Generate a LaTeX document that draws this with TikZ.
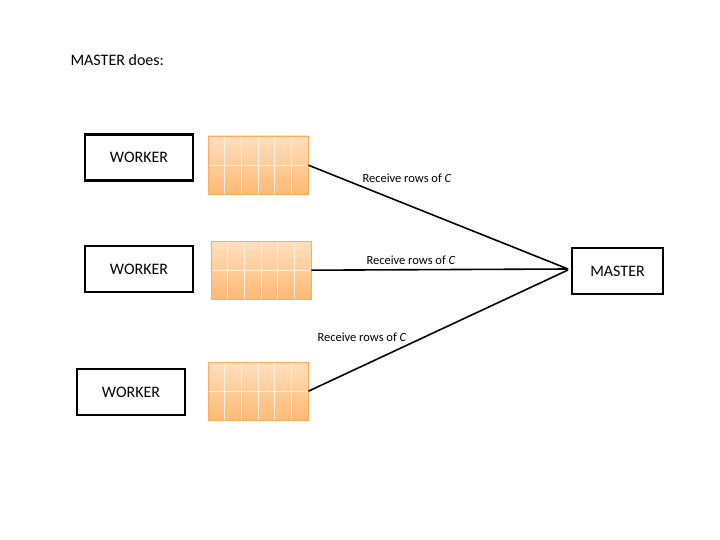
\documentclass[tikz,border=0pt]{standalone}
\usepackage{fontspec}
\setmainfont{Carlito}
\begin{document}
\begin{tikzpicture}[x=1pt,y=-1pt,
  box/.style={draw=black,line width=2.2pt,minimum width=108pt,minimum height=46pt,inner sep=0pt,font=\fontsize{16}{19}\selectfont},
  lab/.style={font=\fontsize{12.5}{15}\selectfont,inner sep=1pt},
  conn/.style={draw=black,line width=1.6pt}]
\useasboundingbox (0,0) rectangle (720,540);
\node[anchor=west,font=\fontsize{16}{19}\selectfont] (title) at (67,60) {MASTER does:};
\node[box] (w1) at (139,157.5) {WORKER};
\node[box] (w2) at (139,269) {WORKER};
\node[box] (w3) at (131,392) {WORKER};
\node[box,minimum width=91pt] (m) at (617.5,271) {MASTER};
\foreach \n/\x/\y in {g1/208/136,g2/211/241,g3/208/362}{
  \shade[top color=orange!25,bottom color=orange!55] (\x,\y) rectangle ++(100,58);
  \foreach \i in {1,...,5} \draw[orange!12,line width=0.8pt] (\x+\i*16.67,\y) -- ++(0,58);
  \draw[orange!12,line width=0.8pt] (\x,\y+29) -- ++(100,0);
  \draw[orange!65,line width=0.6pt] (\x,\y) rectangle ++(100,58);
  \node[inner sep=0pt,minimum width=100pt,minimum height=58pt,anchor=north west] (\n) at (\x,\y) {};
}
\coordinate (t) at (568,269);
\draw[conn] (g1.east) -- (t);
\draw[conn] (g2.east) -- (t);
\draw[conn] (g3.east) -- (568,270);
\node[lab] (l1) at (407,178) {Receive rows of \textit{C}};
\node[lab] (l2) at (411,260) {Receive rows of \textit{C}};
\node[lab] (l3) at (362,337) {Receive rows of \textit{C}};
\end{tikzpicture}
\end{document}
